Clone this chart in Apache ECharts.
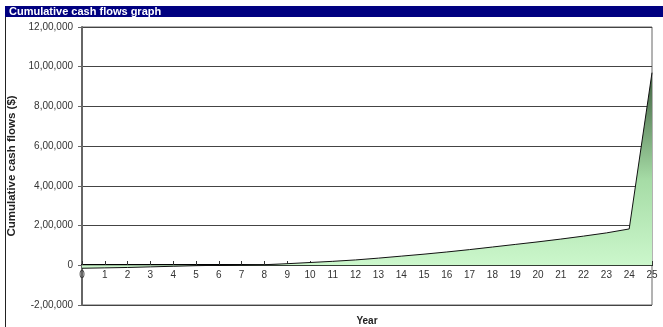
<!DOCTYPE html>
<html>
<head>
<meta charset="utf-8">
<script src="https://cdn.jsdelivr.net/npm/echarts@6/dist/echarts.min.js"></script>
<style>
html,body{margin:0;padding:0;background:#fff;}
#chart{width:663px;height:327px;}
</style>
</head>
<body>
<div id="chart"></div>
<script>
var years = [0,1,2,3,4,5,6,7,8,9,10,11,12,13,14,15,16,17,18,19,20,21,22,23,24,25];
var cumulative = [-15000,-13000,-11000,-8000,-5000,-2000,0,1000,3000,8000,14000,20000,27000,36000,46000,56000,67000,79000,92000,105000,118000,132000,147000,163000,183000,970000];
var yTicks = [-200000,0,200000,400000,600000,800000,1000000,1200000];

// indian style grouping: 12,00,000
function indian(v){
	var neg = v < 0, s = String(Math.abs(v));
	if(s.length > 3){
		var last = s.slice(-3), rest = s.slice(0, -3);
		rest = rest.replace(/\B(?=(\d{2})+(?!\d))/g, ',');
		s = rest + ',' + last;
	}
	return (neg ? '-' : '') + s;
}

var points = [];
for(var i = 0; i < years.length; i++){
	points.push([years[i], cumulative[i]]);
}

var chart = echarts.init(document.getElementById('chart'));
chart.setOption({
	animation: false,
	textStyle: {fontFamily: 'Arial, "Liberation Sans", sans-serif'},
	graphic: [
		{type: 'rect', shape: {x: 5, y: 6, width: 658, height: 11}, style: {fill: '#000080'}},
		{type: 'text', left: 9, top: 6, style: {text: 'Cumulative cash flows graph', fill: '#fff', font: 'bold 11px Arial, "Liberation Sans", sans-serif'}},
		{type: 'line', shape: {x1: 5.5, y1: 17, x2: 5.5, y2: 327}, style: {stroke: '#222', lineWidth: 1}}
	],
	grid: {
		left: 82, right: 11, top: 27, bottom: 22,
		containLabel: false, outerBoundsMode: 'none',
		show: true, borderColor: '#666', borderWidth: 1
	},
	xAxis: {
		type: 'value',
		min: 0, max: 25, interval: 1,
		position: 'bottom', offset: -40,
		name: 'Year', nameLocation: 'middle', nameGap: 51,
		nameTextStyle: {fontWeight: 'bold', fontSize: 10, color: '#222'},
		axisLine: {onZero: false, lineStyle: {color: '#000', width: 2}},
		axisTick: {inside: true, length: 4, lineStyle: {color: '#333'}},
		axisLabel: {fontSize: 10, color: '#333', margin: 5},
		splitLine: {show: false}
	},
	yAxis: {
		type: 'value',
		min: yTicks[0], max: yTicks[yTicks.length - 1], interval: 200000,
		name: 'Cumulative cash flows ($)', nameLocation: 'middle', nameGap: 60,
		nameTextStyle: {fontWeight: 'bold', fontSize: 11.5, color: '#222'},
		axisLine: {show: true, onZero: false, lineStyle: {color: '#666', width: 2}},
		axisTick: {show: true, length: 4, lineStyle: {color: '#666'}},
		axisLabel: {fontSize: 10, color: '#333', margin: 9, formatter: function(v){ return indian(v); }},
		splitLine: {lineStyle: {color: '#444', width: 1}}
	},
	series: [{
		type: 'line',
		data: points,
		showSymbol: false,
		lineStyle: {color: '#111', width: 1},
		areaStyle: {
			color: new echarts.graphic.LinearGradient(0, 0, 0, 1, [
				{offset: 0, color: '#3f5f3f'},
				{offset: 0.55, color: '#a6dca6'},
				{offset: 1, color: '#cdf8cd'}
			]),
			opacity: 1
		}
	}]
});
</script>
</body>
</html>
